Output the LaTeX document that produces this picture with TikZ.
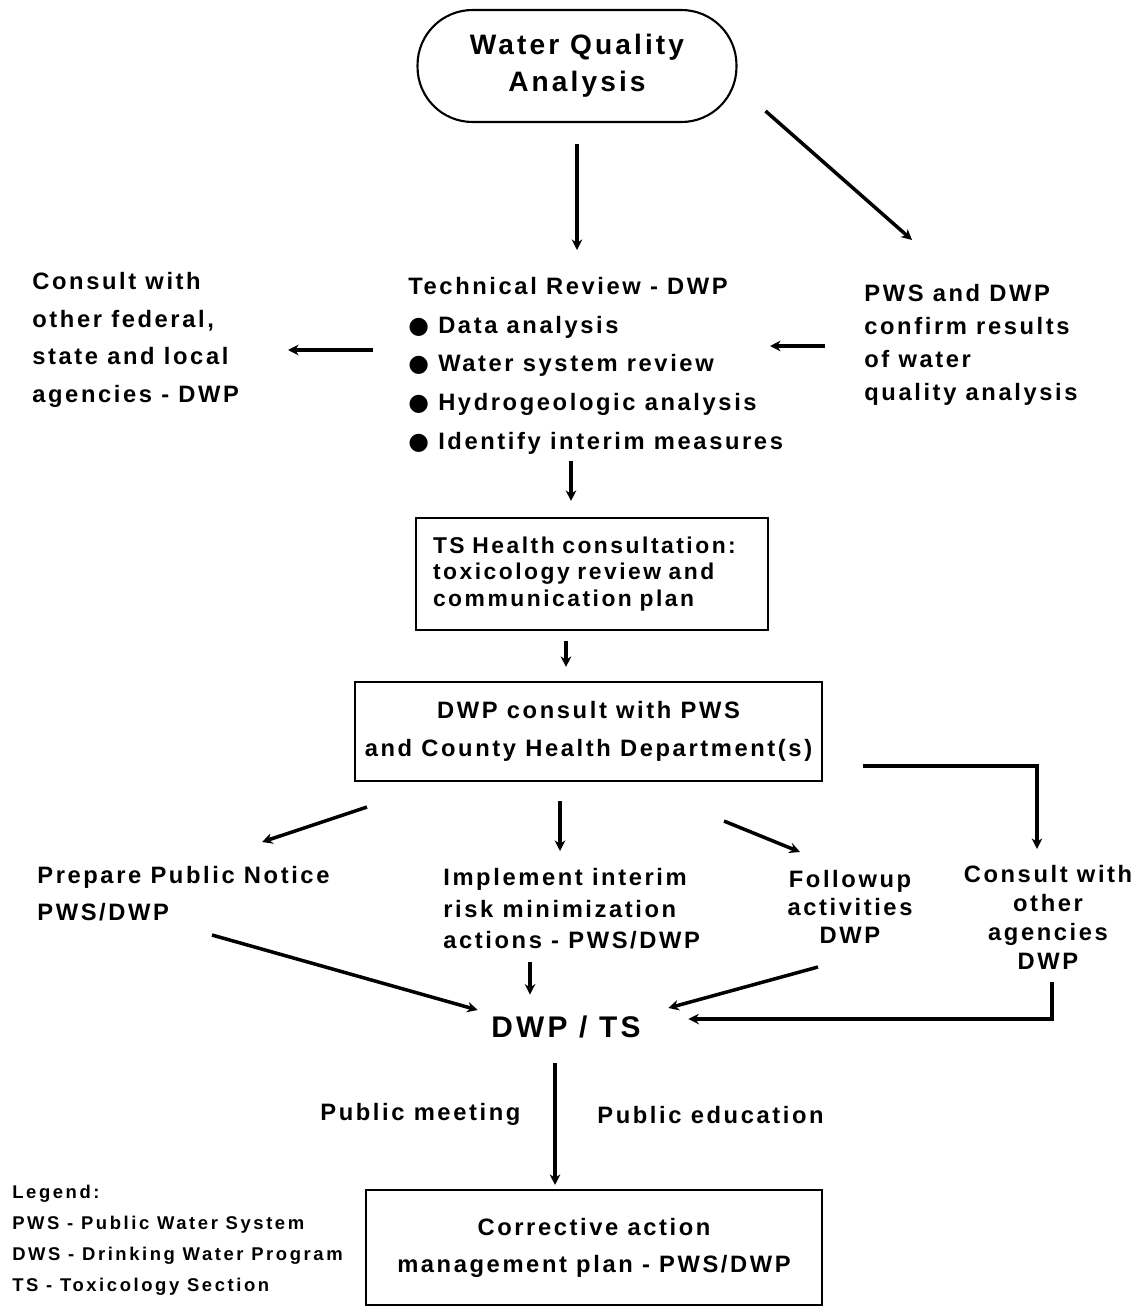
\documentclass[tikz,border=0pt]{standalone}
\usepackage{fontspec}
\setmainfont{Liberation Sans}[LetterSpace=11]
\newfontfamily\legendfont{Liberation Sans}[LetterSpace=14]
\newfontfamily\symfont{DejaVu Sans}
\usetikzlibrary{arrows.meta,positioning}
\newcommand{\bul}{{\symfont\char"25CF}\ }

\tikzset{
  arr/.style={-{Stealth[length=6pt,width=6pt]}, line width=2pt},
  box/.style={draw, line width=1.2pt, inner sep=0pt},
  lbl/.style={inner sep=0pt, align=left, font=\fontsize{13.5pt}{#1}\selectfont\bfseries},
  lbl/.default=21pt,
}

\begin{document}
\begin{tikzpicture}[x=0.02cm, y=-0.02cm]
  \useasboundingbox (0,0) rectangle (1139,1308);

  \node[box, rounded corners=1.1cm, minimum width=6.38cm, minimum height=2.24cm, align=center,
        font=\fontsize{16pt}{21pt}\selectfont\bfseries] (WQA) at (577,66) {Water Quality\\Analysis};
  \node[lbl=21.4pt, anchor=north west] (ConsultFed) at (32,272) {Consult with\\other federal,\\state and local\\agencies - DWP};
  \node[lbl=22pt, anchor=north west] (TechRev) at (408,277)
       {Technical Review - DWP\\\bul Data analysis\\\bul Water system review\\\bul Hydrogeologic analysis\\\bul Identify interim measures};
  \node[lbl=18.7pt, anchor=north west] (Confirm) at (864,284) {PWS and DWP\\confirm results\\of water\\quality analysis};

  \node[box, text width=6.36cm, minimum height=2.24cm, inner xsep=0.34cm, align=left,
        font=\fontsize{13pt}{15.3pt}\selectfont\bfseries] (TSHealth) at (592,574)
       {TS Health consultation:\\toxicology review and\\communication plan};
  \node[box, minimum width=9.34cm, minimum height=1.98cm, align=center,
        font=\fontsize{13.5pt}{21.5pt}\selectfont\bfseries] (DWPConsult) at (588.5,731.5)
       {DWP consult with PWS\\and County Health Department(s)};

  \node[lbl=21pt, anchor=north west] (PrepNotice) at (37,866) {Prepare Public Notice\\PWS/DWP};
  \node[lbl=18pt, anchor=north west] (Implement) at (443,868) {Implement interim\\risk minimization\\actions - PWS/DWP};
  \node[lbl=16pt, anchor=north, align=center] (Followup) at (850,870) {Followup\\activities\\DWP};
  \node[lbl=16.5pt, anchor=north, align=center] (ConsultOther) at (1048,865) {Consult with\\other\\agencies\\DWP};

  \node[minimum width=3cm, minimum height=0.6cm, inner sep=0pt,
        font=\fontsize{17pt}{17pt}\selectfont\bfseries] (DWPTS) at (566,1027) {DWP / TS};

  \node[lbl, anchor=north west] (PubMeeting) at (320,1103) {Public meeting};
  \node[lbl, anchor=north west] (PubEducation) at (597,1106) {Public education};

  \node[box, minimum width=9.12cm, minimum height=2.3cm, align=center,
        font=\fontsize{13.5pt}{21pt}\selectfont\bfseries] (Corrective) at (594,1247.5)
       {Corrective action\\management plan - PWS/DWP};

  \node[anchor=north west, inner sep=0pt, align=left,
        font=\legendfont\fontsize{10.5pt}{17.6pt}\selectfont\bfseries] (Legend) at (12,1185)
       {Legend:\\PWS - Public Water System\\DWS - Drinking Water Program\\TS - Toxicology Section};

  % connectors
  \draw[arr, shorten <=0.42cm, shorten >=0.54cm] (WQA.south) -- (WQA.south |- TechRev.north);
  \draw[arr] ([shift={(28,-12)}]WQA.south east) -- ([shift={(48,-44)}]Confirm.north west);
  \draw[arr] ([shift={(-35,73)}]TechRev.north west) -- ([shift={(256,78)}]ConsultFed.north west);
  \draw[arr] ([shift={(-39,62)}]Confirm.north west) -- ([shift={(362,69)}]TechRev.north west);
  \draw[arr] ([shift={(-21,-56)}]TSHealth.north) -- ([shift={(-21,-16)}]TSHealth.north);
  \draw[arr] ([shift={(-26,10)}]TSHealth.south) -- ([shift={(-22.5,-14)}]DWPConsult.north);
  \draw[arr] ([shift={(13,25)}]DWPConsult.south west) -- ([shift={(225,-24)}]PrepNotice.north west);
  \draw[arr] ([shift={(-28.5,19)}]DWPConsult.south) -- ([shift={(117,-17)}]Implement.north west);
  \draw[arr] ([shift={(-99,39)}]DWPConsult.south east) -- ([shift={(-50,-18)}]Followup.north);
  \draw[arr] ([shift={(40,34.5)}]DWPConsult.east) -| ([shift={(-11,-16)}]ConsultOther.north);
  \draw[arr] ([shift={(175,69)}]PrepNotice.north west) -- ([shift={(-13,-17)}]DWPTS.west);
  \draw[arr] ([shift={(87,94)}]Implement.north west) -- ([shift={(-36,-17)}]DWPTS.north);
  \draw[arr] ([shift={(-32,97)}]Followup.north) -- ([shift={(27,-19)}]DWPTS.east);
  \draw[arr] ([shift={(4,117)}]ConsultOther.north) |- ([shift={(47,-8)}]DWPTS.east);
  \draw[arr] ([shift={(-11,21)}]DWPTS.south) -- ([shift={(-39,-4)}]Corrective.north);
\end{tikzpicture}
\end{document}
